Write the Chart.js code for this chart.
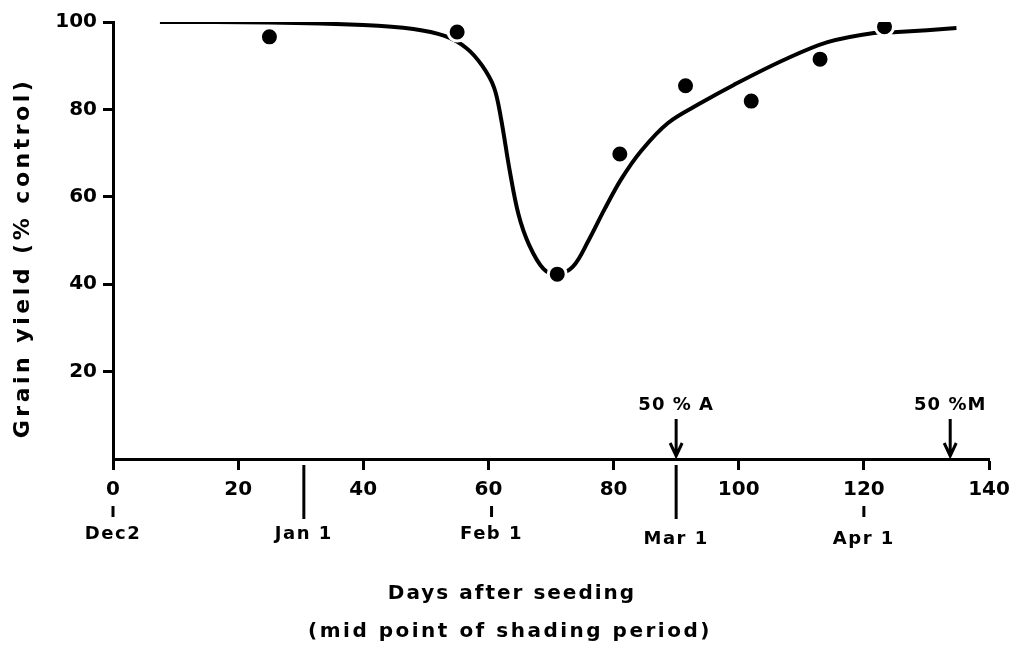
<!DOCTYPE html>
<html>
<head>
<meta charset="utf-8">
<script src="https://cdn.jsdelivr.net/npm/chart.js@4/dist/chart.umd.min.js"></script>
<style>
  body { margin: 0; background: #fff; }
</style>
</head>
<body>
<canvas id="chart" width="1020" height="646"></canvas>
<script>
// observed points (days after seeding, % of control)
const obsDays = [25, 55, 71, 81, 91.5, 102, 113, 123.3];
const obsYield = [96.6, 97.7, 42.3, 69.8, 85.4, 81.9, 91.5, 98.9];

// fitted curve
const curveDays = [7.5, 25, 40, 48, 53, 56.5, 59, 60.9, 62, 63.4, 64.8, 66.5, 68.8, 71, 73.5, 76, 78.5, 81.2, 84.4, 88.7, 94, 99.2, 107.2, 114.2, 121.6, 125.4, 134.8];
const curveYield = [100, 99.9, 99.3, 98.4, 96.8, 94, 90, 85, 78, 66, 56, 49, 43.5, 42.3, 44, 50, 57, 64, 70.5, 76.9, 81.5, 85.6, 91.3, 95.4, 97.5, 97.7, 98.6];

// calendar marks under the day axis
const monthLabels = ['Dec2', 'Jan 1', 'Feb 1', 'Mar 1', 'Apr 1'];
const monthDays = [0, 30.5, 60.5, 90, 120];
const monthLong = [false, true, false, true, false];

// stage arrows
const stageLabels = ['50 % A', '50 %M'];
const stageDays = [90, 133.8];

const FONT = '"DejaVu Sans", sans-serif';

const marks = {
    id: 'marks',
    afterDraw(chart) {
        const ctx = chart.ctx;
        const x = chart.scales.x;
        const axisY = chart.chartArea.bottom;
        ctx.save();
        ctx.strokeStyle = '#000';
        ctx.fillStyle = '#000';
        ctx.lineWidth = 3;
        ctx.textAlign = 'center';
        ctx.textBaseline = 'middle';
        ctx.font = 'bold 18px ' + FONT;
        ctx.letterSpacing = '1.5px';

        monthDays.forEach((d, i) => {
            const px = x.getPixelForValue(d);
            ctx.beginPath();
            if (monthLong[i]) {
                ctx.moveTo(px, axisY + 6);
                ctx.lineTo(px, axisY + 60);
            } else {
                ctx.moveTo(px, axisY + 47);
                ctx.lineTo(px, axisY + 58);
            }
            ctx.stroke();
            ctx.fillText(monthLabels[i], px, axisY + (i > 2 ? 80 : 75));
        });

        ctx.letterSpacing = '1px';
        stageDays.forEach((d, i) => {
            const px = x.getPixelForValue(d);
            ctx.fillText(stageLabels[i], px, axisY - 54);
            ctx.beginPath();
            ctx.moveTo(px, axisY - 40);
            ctx.lineTo(px, axisY - 3);
            ctx.moveTo(px - 6, axisY - 16);
            ctx.lineTo(px, axisY - 3);
            ctx.lineTo(px + 6, axisY - 16);
            ctx.stroke();
        });

        // axis titles
        ctx.font = 'bold 20px ' + FONT;
        ctx.letterSpacing = '2px';
        ctx.fillText('Days after seeding', 512, 594);
        ctx.letterSpacing = '2.5px';
        ctx.fillText('(mid point of shading period)', 510, 632);
        ctx.translate(23, 258);
        ctx.rotate(-Math.PI / 2);
        ctx.font = 'bold 22px ' + FONT;
        ctx.letterSpacing = '3.5px';
        ctx.fillText('Grain yield (% control)', 0, 0);
        ctx.restore();
    }
};

new Chart(document.getElementById('chart'), {
    type: 'scatter',
    data: {
        datasets: [{
            data: obsDays.map((d, i) => ({ x: d, y: obsYield[i] })),
            backgroundColor: '#000',
            borderColor: '#fff',
            borderWidth: 3,
            pointRadius: 9
        }, {
            data: curveDays.map((d, i) => ({ x: d, y: curveYield[i] })),
            showLine: true,
            borderColor: '#000',
            borderWidth: 4,
            pointRadius: 0,
            tension: 0.35
        }]
    },
    options: {
        responsive: false,
        devicePixelRatio: 1,
        animation: false,
        layout: { padding: { top: 22, right: 31, left: 0, bottom: 0 } },
        plugins: { legend: { display: false }, tooltip: { enabled: false } },
        scales: {
            x: {
                min: 0, max: 140,
                ticks: { stepSize: 20, color: '#000', padding: 8, maxRotation: 0, font: { family: FONT, size: 20, weight: 'bold' } },
                grid: { drawOnChartArea: false, tickLength: 11, tickWidth: 3, tickColor: '#000' },
                border: { color: '#000', width: 3 },
                afterFit(s) { s.height = 187; }
            },
            y: {
                min: 0, max: 100,
                ticks: { stepSize: 20, color: '#000', padding: 6, font: { family: FONT, size: 20, weight: 'bold' },
                    callback: v => v === 0 ? '' : v },
                grid: { drawOnChartArea: false, tickLength: 10, tickWidth: 3,
                    tickColor: c => c.tick && c.tick.value === 0 ? 'rgba(0,0,0,0)' : '#000' },
                border: { color: '#000', width: 3 },
                afterFit(s) { s.width = 113; }
            }
        }
    },
    plugins: [marks]
});
</script>
</body>
</html>
